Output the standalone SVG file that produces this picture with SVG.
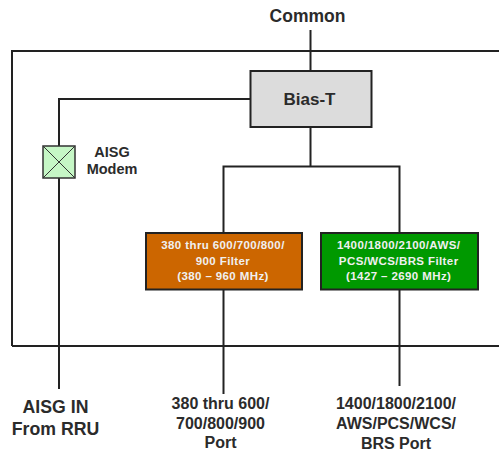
<svg xmlns="http://www.w3.org/2000/svg" width="499" height="452" viewBox="0 0 499 452">
<style>
text{font-family:"Liberation Sans",Arial,sans-serif;font-weight:bold;text-anchor:middle;fill:#2b2b2b}
.c{fill:none;stroke:#222;stroke-width:2}
.b{stroke:#222;stroke-width:2}
.f{font-size:11.500px;fill:#f0f0f0;letter-spacing:.4px}
.p{font-size:16px}
</style>
<rect width="499" height="452" fill="#fff"/>
<g id="connectors">
<path class="c" d="M12 346V51H499M12 346H499"/>
<path class="c" d="M310.500 30V71M310.500 127V166"/>
<path class="c" d="M250 99H59V389"/>
<path class="c" d="M223.500 394V166.500H399.500V386"/>
</g>
<g id="bias-t">
<rect class="b" x="250.500" y="71" width="121" height="56" fill="#dcdcdc"/>
<text x="309.500" y="105" font-size="17">Bias-T</text>
</g>
<g id="aisg-modem">
<rect x="43" y="146" width="32" height="32" fill="#c6f7c6" stroke="#333" stroke-width="1.500"/>
<path d="M43 146L75 178M75 146L43 178" stroke="#333" stroke-width="1" fill="none"/>
<text x="112" y="157" font-size="14.500">AISG</text>
<text x="112" y="174" font-size="14.500">Modem</text>
</g>
<g id="low-filter">
<rect class="b" x="146" y="233" width="156" height="56.500" fill="#cc6600"/>
<text class="f" x="223" y="249">380 thru 600/700/800/</text>
<text class="f" x="223" y="264.500">900 Filter</text>
<text class="f" x="223" y="280">(380 – 960 MHz)</text>
</g>
<g id="high-filter">
<rect class="b" x="321" y="233" width="157" height="56.500" fill="#009900"/>
<text class="f" x="398.700" y="249">1400/1800/2100/AWS/</text>
<text class="f" x="398.700" y="264.500">PCS/WCS/BRS Filter</text>
<text class="f" x="398.700" y="280">(1427 – 2690 MHz)</text>
</g>
<g id="common"><text x="307.500" y="22" font-size="17.500">Common</text></g>
<g id="aisg-in">
<text x="55.500" y="412.500" font-size="17.700">AISG IN</text>
<text x="55.500" y="435" font-size="17.700">From RRU</text>
</g>
<g id="low-port">
<text class="p" x="220.500" y="409">380 thru 600/</text>
<text class="p" x="220.500" y="428.500">700/800/900</text>
<text class="p" x="220.500" y="448">Port</text>
</g>
<g id="high-port">
<text class="p" x="396" y="409">1400/1800/2100/</text>
<text class="p" x="396" y="429">AWS/PCS/WCS/</text>
<text class="p" x="396" y="449">BRS Port</text>
</g>
</svg>
